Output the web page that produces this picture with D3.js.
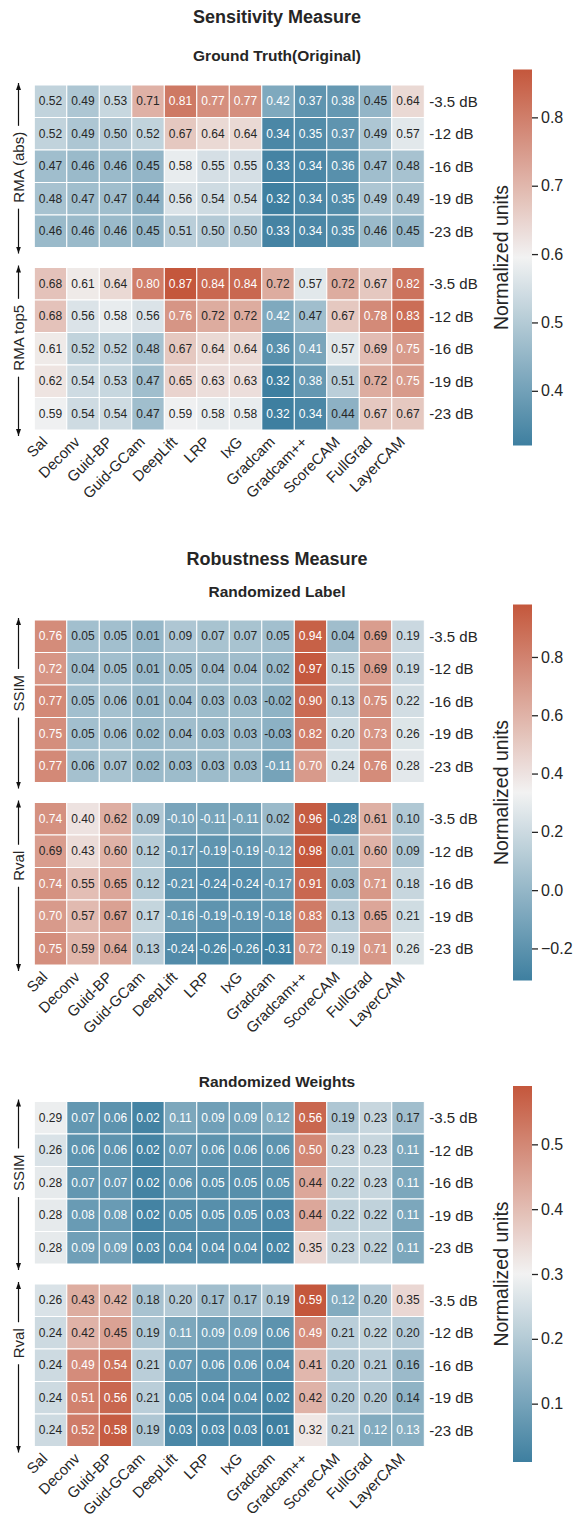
<!DOCTYPE html>
<html>
<head>
<meta charset="utf-8">
<script src="https://cdn.jsdelivr.net/npm/d3@7"></script>
<style>
  body { margin: 0; background: #fff; }
  text { font-family: "Liberation Sans", Arial, sans-serif; fill: #262626; }
</style>
</head>
<body>
<div id="chart"></div>
<script>
// column + row labels
var methods = ['Sal', 'Deconv', 'Guid-BP', 'Guid-GCam', 'DeepLift', 'LRP', 'IxG',
    'Gradcam', 'Gradcam++', 'ScoreCAM', 'FullGrad', 'LayerCAM'];
var snr = ['-3.5 dB', '-12 dB', '-16 dB', '-19 dB', '-23 dB'];

// Sensitivity / ground truth
var gtRmaAbs = [
    [0.52, 0.49, 0.53, 0.71, 0.81, 0.77, 0.77, 0.42, 0.37, 0.38, 0.45, 0.64],
    [0.52, 0.49, 0.50, 0.52, 0.67, 0.64, 0.64, 0.34, 0.35, 0.37, 0.49, 0.57],
    [0.47, 0.46, 0.46, 0.45, 0.58, 0.55, 0.55, 0.33, 0.34, 0.36, 0.47, 0.48],
    [0.48, 0.47, 0.47, 0.44, 0.56, 0.54, 0.54, 0.32, 0.34, 0.35, 0.49, 0.49],
    [0.46, 0.46, 0.46, 0.45, 0.51, 0.50, 0.50, 0.33, 0.34, 0.35, 0.46, 0.45]
];
var gtRmaTop5 = [
    [0.68, 0.61, 0.64, 0.80, 0.87, 0.84, 0.84, 0.72, 0.57, 0.72, 0.67, 0.82],
    [0.68, 0.56, 0.58, 0.56, 0.76, 0.72, 0.72, 0.42, 0.47, 0.67, 0.78, 0.83],
    [0.61, 0.52, 0.52, 0.48, 0.67, 0.64, 0.64, 0.36, 0.41, 0.57, 0.69, 0.75],
    [0.62, 0.54, 0.53, 0.47, 0.65, 0.63, 0.63, 0.32, 0.38, 0.51, 0.72, 0.75],
    [0.59, 0.54, 0.54, 0.47, 0.59, 0.58, 0.58, 0.32, 0.34, 0.44, 0.67, 0.67]
];

// Robustness / randomized label
var rlSsim = [
    [0.76, 0.05, 0.05, 0.01, 0.09, 0.07, 0.07, 0.05, 0.94, 0.04, 0.69, 0.19],
    [0.72, 0.04, 0.05, 0.01, 0.05, 0.04, 0.04, 0.02, 0.97, 0.15, 0.69, 0.19],
    [0.77, 0.05, 0.06, 0.01, 0.04, 0.03, 0.03, -0.02, 0.90, 0.13, 0.75, 0.22],
    [0.75, 0.05, 0.06, 0.02, 0.04, 0.03, 0.03, -0.03, 0.82, 0.20, 0.73, 0.26],
    [0.77, 0.06, 0.07, 0.02, 0.03, 0.03, 0.03, -0.11, 0.70, 0.24, 0.76, 0.28]
];
var rlRval = [
    [0.74, 0.40, 0.62, 0.09, -0.10, -0.11, -0.11, 0.02, 0.96, -0.28, 0.61, 0.10],
    [0.69, 0.43, 0.60, 0.12, -0.17, -0.19, -0.19, -0.12, 0.98, 0.01, 0.60, 0.09],
    [0.74, 0.55, 0.65, 0.12, -0.21, -0.24, -0.24, -0.17, 0.91, 0.03, 0.71, 0.18],
    [0.70, 0.57, 0.67, 0.17, -0.16, -0.19, -0.19, -0.18, 0.83, 0.13, 0.65, 0.21],
    [0.75, 0.59, 0.64, 0.13, -0.24, -0.26, -0.26, -0.31, 0.72, 0.19, 0.71, 0.26]
];

// Robustness / randomized weights
var rwSsim = [
    [0.29, 0.07, 0.06, 0.02, 0.11, 0.09, 0.09, 0.12, 0.56, 0.19, 0.23, 0.17],
    [0.26, 0.06, 0.06, 0.02, 0.07, 0.06, 0.06, 0.06, 0.50, 0.23, 0.23, 0.11],
    [0.28, 0.07, 0.07, 0.02, 0.06, 0.05, 0.05, 0.05, 0.44, 0.22, 0.23, 0.11],
    [0.28, 0.08, 0.08, 0.02, 0.05, 0.05, 0.05, 0.03, 0.44, 0.22, 0.22, 0.11],
    [0.28, 0.09, 0.09, 0.03, 0.04, 0.04, 0.04, 0.02, 0.35, 0.23, 0.22, 0.11]
];
var rwRval = [
    [0.26, 0.43, 0.42, 0.18, 0.20, 0.17, 0.17, 0.19, 0.59, 0.12, 0.20, 0.35],
    [0.24, 0.42, 0.45, 0.19, 0.11, 0.09, 0.09, 0.06, 0.49, 0.21, 0.22, 0.20],
    [0.24, 0.49, 0.54, 0.21, 0.07, 0.06, 0.06, 0.04, 0.41, 0.20, 0.21, 0.16],
    [0.24, 0.51, 0.56, 0.21, 0.05, 0.04, 0.04, 0.02, 0.42, 0.20, 0.20, 0.14],
    [0.24, 0.52, 0.58, 0.19, 0.03, 0.03, 0.03, 0.01, 0.32, 0.21, 0.12, 0.13]
];

// layout per figure (label shift = offset of the side label from block centre)
var panels = [
    { title: 'Sensitivity Measure', subtitle: 'Ground Truth(Original)',
      blocks: [['RMA (abs)', gtRmaAbs], ['RMA top5', gtRmaTop5]],
      titleY: 23, subY: 61, top: 85, labelShift: [1, -11] },
    { title: 'Robustness Measure', subtitle: 'Randomized Label',
      blocks: [['SSIM', rlSsim], ['Rval', rlRval]],
      titleY: 565, subY: 597, top: 620, labelShift: [-8, -18] },
    { title: null, subtitle: 'Randomized Weights',
      blocks: [['SSIM', rwSsim], ['Rval', rwRval]],
      titleY: null, subY: 1087, top: 1101.5, labelShift: [-10, -22] }
];

var width = 574, height = 1519;
var heatLeft = 34.3, cell = 32.5, rowH = 32.5, gap = 20;
var blockH = rowH * snr.length;
var cbX = 513, cbW = 19, cbLen = 376;
var titleX = 277;
var blue = '#3e7fa0', mid = '#f2f2f2', red = '#c4573c';

var svg = d3.select('#chart').append('svg')
    .attr('width', width)
    .attr('height', height);

svg.append('rect').attr('width', width).attr('height', height).attr('fill', '#fff');

var defs = svg.append('defs');
defs.append('marker')
    .attr('id', 'head')
    .attr('viewBox', '0 0 7 5')
    .attr('refX', 7).attr('refY', 2.5)
    .attr('markerWidth', 7).attr('markerHeight', 5)
    .attr('markerUnits', 'userSpaceOnUse')
    .attr('orient', 'auto')
    .append('path')
    .attr('d', 'M0,0L7,2.5L0,5Z')
    .attr('fill', '#111');

var x = d3.scaleBand()
    .domain(methods)
    .range([heatLeft, heatLeft + cell * methods.length]);

function lum(c) {
    var rgb = d3.rgb(c);
    var f = function(v) {
        v = v / 255;
        return v <= 0.03928 ? v / 12.92 : Math.pow((v + 0.055) / 1.055, 2.4);
    };
    return 0.2126 * f(rgb.r) + 0.7152 * f(rgb.g) + 0.0722 * f(rgb.b);
}

panels.forEach(function(p, pi) {
    var g = svg.append('g');
    var all = d3.merge(p.blocks.map(function(b) { return d3.merge(b[1]); }));
    var vmin = d3.min(all), vmax = d3.max(all);

    var color = d3.scaleLinear()
        .domain([vmin, (vmin + vmax) / 2, vmax])
        .range([blue, mid, red])
        .interpolate(d3.interpolateRgb);

    if (p.title) {
        g.append('text')
            .attr('x', titleX).attr('y', p.titleY)
            .attr('text-anchor', 'middle')
            .attr('font-size', '18px').attr('font-weight', 'bold')
            .text(p.title);
    }
    g.append('text')
        .attr('x', titleX).attr('y', p.subY)
        .attr('text-anchor', 'middle')
        .attr('font-size', '15.5px').attr('font-weight', 'bold')
        .text(p.subtitle);

    p.blocks.forEach(function(b, bi) {
        var top = p.top + bi * (blockH + gap);
        var y = d3.scaleBand().domain(snr).range([top, top + blockH]);

        var cells = [];
        b[1].forEach(function(row, ri) {
            row.forEach(function(v, ci) {
                cells.push({ r: snr[ri], c: methods[ci], v: v });
            });
        });

        var cg = g.selectAll('.cell-' + bi)
            .data(cells)
            .enter().append('g')
            .attr('class', 'cell-' + bi);

        cg.append('rect')
            .attr('x', function(d) { return x(d.c); })
            .attr('y', function(d) { return y(d.r); })
            .attr('width', x.bandwidth())
            .attr('height', y.bandwidth())
            .attr('fill', function(d) { return color(d.v); })
            .attr('stroke', '#fff')
            .attr('stroke-width', 1);

        cg.append('text')
            .attr('x', function(d) { return x(d.c) + x.bandwidth() / 2; })
            .attr('y', function(d) { return y(d.r) + y.bandwidth() / 2; })
            .attr('text-anchor', 'middle')
            .attr('dominant-baseline', 'central')
            .attr('font-size', '12px')
            .style('fill', function(d) { return lum(color(d.v)) > 0.408 ? '#262626' : '#fff'; })
            .text(function(d) { return d3.format('.2f')(d.v).replace('\u2212', '-'); });

        // row labels on the right
        g.selectAll('.rl-' + bi)
            .data(snr)
            .enter().append('text')
            .attr('x', x.range()[1] + 5)
            .attr('y', function(d) { return y(d) + y.bandwidth() / 2; })
            .attr('dominant-baseline', 'central')
            .attr('font-size', '15px')
            .text(function(d) { return d; });

        // left label with arrows
        var lx = 18.5;
        var ly = top + blockH / 2 + p.labelShift[bi];
        var lab = g.append('text')
            .attr('transform', 'translate(' + lx + ',' + ly + ') rotate(-90)')
            .attr('text-anchor', 'middle')
            .attr('dominant-baseline', 'central')
            .attr('font-size', '15px')
            .text(b[0]);
        var half = lab.node().getComputedTextLength() / 2 + 6;

        g.append('line')
            .attr('x1', lx).attr('x2', lx)
            .attr('y1', ly - half).attr('y2', top - 2)
            .attr('stroke', '#111').attr('stroke-width', 1.2)
            .attr('marker-end', 'url(#head)');
        g.append('line')
            .attr('x1', lx).attr('x2', lx)
            .attr('y1', ly + half).attr('y2', top + blockH + 6)
            .attr('stroke', '#111').attr('stroke-width', 1.2)
            .attr('marker-end', 'url(#head)');
    });

    // rotated x labels
    var bottom = p.top + 2 * blockH + gap;
    g.selectAll('.xl')
        .data(methods)
        .enter().append('text')
        .attr('transform', function(d) {
            return 'translate(' + (x(d) + x.bandwidth() / 2 - 2.3) + ',' + (bottom + 13) + ') rotate(-45)';
        })
        .attr('text-anchor', 'end')
        .attr('font-size', '15px')
        .text(function(d) { return d; });

    // colorbar
    var cbTop = p.top + (2 * blockH + gap) / 2 - cbLen / 2;
    var cbScale = d3.scaleLinear().domain([vmin, vmax]).range([cbTop + cbLen, cbTop]);
    var gid = 'grad' + pi;
    var grad = defs.append('linearGradient')
        .attr('id', gid)
        .attr('x1', 0).attr('y1', 1).attr('x2', 0).attr('y2', 0);
    d3.range(0, 1.0001, 0.05).forEach(function(t) {
        grad.append('stop')
            .attr('offset', t)
            .attr('stop-color', color(vmin + t * (vmax - vmin)));
    });
    g.append('rect')
        .attr('x', cbX).attr('y', cbTop)
        .attr('width', cbW).attr('height', cbLen)
        .attr('fill', 'url(#' + gid + ')');

    var cbAxis = g.append('g')
        .attr('transform', 'translate(' + (cbX + cbW) + ',0)')
        .call(d3.axisRight(cbScale).ticks(5).tickSize(6).tickPadding(3).tickFormat(d3.format('.1f')));
    cbAxis.select('.domain').remove();
    cbAxis.selectAll('line').attr('stroke', '#262626').attr('stroke-width', 1.3);
    cbAxis.selectAll('text')
        .attr('font-size', '16px')
        .attr('font-family', '"Liberation Sans", Arial, sans-serif')
        .style('fill', '#262626');

    g.append('text')
        .attr('transform', 'translate(501,' + (cbTop + cbLen / 2) + ') rotate(-90)')
        .attr('text-anchor', 'middle')
        .attr('dominant-baseline', 'central')
        .attr('font-size', '19.5px')
        .text('Normalized units');
});
</script>
</body>
</html>
